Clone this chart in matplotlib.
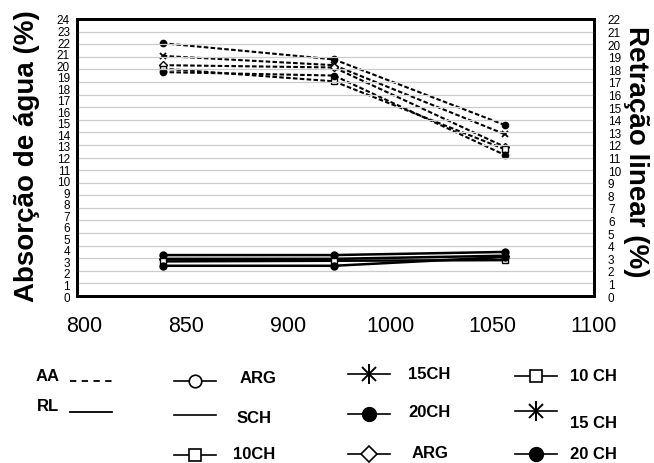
import matplotlib
matplotlib.use("Agg")
import matplotlib.pyplot as plt

# x axis labels (evenly spaced, as printed on the original)
x_labels = ["800", "850", "900", "1000", "1050", "1100"]
# positions of the three firings on the label-index scale
x_pts = [0.77, 2.45, 4.13]

# absorcao de agua (left axis, dashed)
aa_20ch = [21.9, 20.5, 14.8]
aa_15ch = [20.8, 20.0, 14.0]
aa_arg = [20.0, 19.8, 12.9]
aa_10ch = [19.7, 18.6, 12.7]
aa_sch = [19.4, 19.1, 12.2]

# retracao linear (right axis, solid)
rl_20ch = [3.25, 3.25, 3.5]
rl_arg = [2.95, 2.95, 3.2]
rl_10ch = [2.75, 2.8, 2.85]
rl_15ch = [2.4, 2.4, 3.1]

plt.rcParams['font.family'] = ['Liberation Sans', 'DejaVu Sans']
narrow = ['Liberation Sans Narrow', 'Liberation Sans', 'DejaVu Sans']

fig = plt.figure(figsize=(6.54, 4.64), dpi=100)
ax = fig.add_axes([77 / 654, 1 - 297 / 464, 517 / 654, 277 / 464])
ax2 = ax.twinx()

# gridlines follow the right axis (0-22)
ax2.set_ylim(0, 22)
ax2.set_yticks(range(0, 23))
ax2.grid(axis='y', color='#cccccc', lw=0.9)
ax.set_ylim(0, 24)
ax.set_yticks(range(0, 25))
ax.set_xlim(-0.07, 4.98)
ax.set_xticks(range(len(x_labels)))
ax.set_xticklabels(x_labels, fontsize=15.5, family='Liberation Sans')

dash = dict(color='black', lw=1.5, ls=(0, (2.2, 1.1)), ms=4.5)
ax.plot(x_pts, aa_20ch, marker='o', **dash)
ax.plot(x_pts, aa_15ch, marker='x', mew=1.3, **dash)
ax.plot(x_pts, aa_arg, marker='D', mfc='white', ms=4, color='black',
        lw=1.5, ls=(0, (2.2, 1.1)))
ax.plot(x_pts, aa_10ch, marker='s', mfc='white', **dash)
ax.plot(x_pts, aa_sch, marker='o', **dash)

solid = dict(color='black', lw=1.8, ms=5)
ax2.plot(x_pts, rl_20ch, marker='o', **solid)
ax2.plot(x_pts, rl_arg, marker='D', ms=4, color='black', lw=1.8)
ax2.plot(x_pts, rl_10ch, marker='s', mfc='white', **solid)
ax2.plot(x_pts, rl_15ch, marker='o', **solid)

for a in (ax, ax2):
    a.tick_params(length=0)
    for s in a.spines.values():
        s.set_linewidth(2)
ax.tick_params(axis='x', pad=14)
ax.tick_params(axis='y', pad=5)
ax2.tick_params(axis='y', pad=10)
for lab in ax.get_yticklabels() + ax2.get_yticklabels():
    lab.set_family(narrow)
    lab.set_fontsize(8.5)

fig.text(27 / 654, 1 - 156 / 464, "Absorção de água (%)", rotation=90,
         fontsize=20, fontweight='bold', ha='center', va='center')
fig.text(636 / 654, 1 - 152 / 464, "Retração linear (%)", rotation=-90,
         fontsize=20, fontweight='bold', ha='center', va='center')

# hand-made legend underneath, laid out in pixel coordinates
lg = fig.add_axes([0, 0, 1, 1])
lg.set_xlim(0, 654)
lg.set_ylim(464, 0)
lg.axis('off')
tk = dict(fontsize=12, fontweight='bold', va='center', ha='left')

lg.text(36, 377, "AA", **tk)
lg.plot([70, 112], [382, 382], color='black', lw=1.3, ls=(0, (3.5, 3)))
lg.text(37, 407, "RL", **tk)
lg.plot([70, 112], [413, 413], color='black', lw=1.3)

seg2 = [174, 216]
seg3 = [348, 390]
seg4 = [515, 557]


def key(seg, y, **kw):
    lg.plot(seg, [y, y], color='black', lw=1.2)
    if kw:
        lg.plot([sum(seg) / 2], [y], color='black', **kw)


def star(seg, y):
    lg.plot(seg, [y, y], color='black', lw=1.2)
    lg.plot([sum(seg) / 2], [y], marker='|', ms=14, mew=1.4, color='black')
    lg.plot([sum(seg) / 2], [y], marker='x', ms=10, mew=1.4, color='black')


key(seg2, 382, marker='o', ms=9, mfc='white', mew=1.2)
lg.text(240, 379, "ARG", **tk)
key(seg2, 416)
lg.text(237, 419, "SCH", **tk)
key(seg2, 456, marker='s', ms=8.5, mfc='white', mew=1.2)
lg.text(233, 455, "10CH", **tk)

star(seg3, 375)
lg.text(408, 375, "15CH", **tk)
key(seg3, 415, marker='o', ms=10, mfc='black')
lg.text(408, 413, "20CH", **tk)
key(seg3, 455, marker='D', ms=8, mfc='white', mew=1.2)
lg.text(412, 454, "ARG", **tk)

key(seg4, 377, marker='s', ms=8.5, mfc='white', mew=1.2)
lg.text(570, 377, "10 CH", **tk)
star(seg4, 412)
lg.text(570, 424, "15 CH", **tk)
key(seg4, 455, marker='o', ms=10, mfc='black')
lg.text(570, 455, "20 CH", **tk)

fig.savefig("out.png", dpi=100)
